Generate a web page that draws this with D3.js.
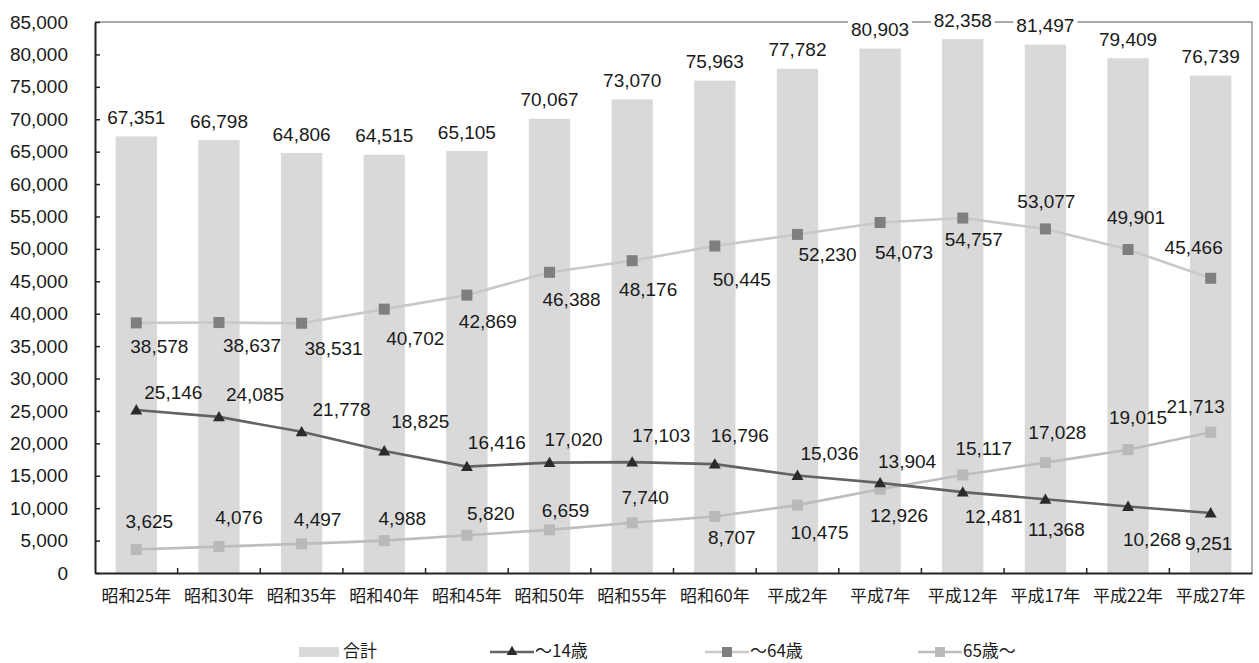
<!DOCTYPE html>
<html>
<head>
<meta charset="utf-8">
<script src="https://cdn.jsdelivr.net/npm/d3@7/dist/d3.min.js"></script>
<style>
  html, body { margin: 0; padding: 0; background: #fff; }
  svg { display: block; }
  .num { font-family: "Liberation Sans", Arial, sans-serif; font-size: 19px; fill: #1a1a1a; }
  .cat { font-family: "Noto Sans CJK JP", sans-serif; font-size: 17px; fill: #1a1a1a; }
  .leg { font-family: "Noto Sans CJK JP", sans-serif; font-size: 17px; fill: #1a1a1a; }
</style>
</head>
<body>
<svg id="chart" width="1259" height="663"></svg>
<script>
// 年齢3区分別人口の推移
const categories = ["昭和25年","昭和30年","昭和35年","昭和40年","昭和45年","昭和50年","昭和55年","昭和60年","平成2年","平成7年","平成12年","平成17年","平成22年","平成27年"];
const total    = [67351, 66798, 64806, 64515, 65105, 70067, 73070, 75963, 77782, 80903, 82358, 81497, 79409, 76739];
const age0_14  = [25146, 24085, 21778, 18825, 16416, 17020, 17103, 16796, 15036, 13904, 12481, 11368, 10268, 9251];
const age15_64 = [38578, 38637, 38531, 40702, 42869, 46388, 48176, 50445, 52230, 54073, 54757, 53077, 49901, 45466];
const age65    = [3625, 4076, 4497, 4988, 5820, 6659, 7740, 8707, 10475, 12926, 15117, 17028, 19015, 21713];
const yTicks   = d3.range(0, 85001, 5000);
const legendNames = ["合計", "～14歳", "～64歳", "65歳～"];

// label placement relative to each marker [dx, dy]
const place0_14 = [[37,-18],[36,-23],[40,-22],[36,-30],[30,-24],[24,-23],[29,-27],[25,-29],[32,-22],[27,-22],[31,24],[11,30],[24,33],[-2,30]];
const place15_64 = [[23,23],[33,23],[32,25],[31,29],[21,26],[22,27],[16,29],[27,33],[30,20],[24,30],[11,21],[1,-28],[8,-32],[-17,-31]];
const place65 = [[13,-28],[20,-29],[16,-24],[18,-22],[24,-22],[16,-19],[13,-25],[17,21],[22,27],[19,26],[21,-27],[12,-30],[10,-32],[-15,-26]];

const svg = d3.select("#chart");
const mLeft = 95, mRight = 1252, mTop = 22, mBottom = 573;

const x = d3.scaleBand().domain(categories).range([mLeft, mRight]).paddingInner(0.5).paddingOuter(0.25);
const y = d3.scaleLinear().domain([0, 85000]).range([mBottom, mTop]);
const cx = c => x(c) + x.bandwidth() / 2;
const fmt = d3.format(",");

// frame: top and right edges
svg.append("path")
  .attr("d", `M${mLeft},${mTop}H${mRight}V${mBottom}`)
  .attr("fill", "none").attr("stroke", "#8c8c8c").attr("stroke-width", 1.3);

// bars
svg.append("g").selectAll("rect").data(categories).join("rect")
  .attr("x", c => x(c)).attr("width", x.bandwidth())
  .attr("y", (c, i) => y(total[i])).attr("height", (c, i) => y(0) - y(total[i]))
  .attr("fill", "#d9d9d9");

// y axis
const yAxis = svg.append("g").attr("transform", `translate(${mLeft},0)`)
  .call(d3.axisLeft(y).tickValues(yTicks).tickFormat(fmt).tickSizeInner(-5).tickSizeOuter(0).tickPadding(27));
yAxis.select(".domain").attr("stroke", "#222").attr("stroke-width", 2);
yAxis.selectAll(".tick line").attr("stroke", "#222").attr("stroke-width", 1.5);
yAxis.selectAll(".tick text").attr("class", "num").attr("font-family", null).attr("font-size", null);

// x axis
const xAxis = svg.append("g").attr("transform", `translate(0,${mBottom})`)
  .call(d3.axisBottom(x).tickSize(0).tickPadding(17));
xAxis.select(".domain").attr("stroke", "#222").attr("stroke-width", 2);
xAxis.selectAll(".tick text").attr("class", "cat").attr("font-family", null).attr("font-size", null);
// category boundary ticks, pointing into the plot
const gap = (x.step() - x.bandwidth()) / 2;
svg.append("g").selectAll("line").data(categories.slice(1)).join("line")
  .attr("x1", c => x(c) - gap)
  .attr("x2", c => x(c) - gap)
  .attr("y1", mBottom).attr("y2", mBottom - 5)
  .attr("stroke", "#222").attr("stroke-width", 1.5);

// lines
const lineGen = vals => d3.line().x((d, i) => cx(categories[i])).y(d => y(d))(vals);
const series = [
  { vals: age15_64, line: "#c9c9c9", marker: "#7f7f7f", shape: "sq", place: place15_64 },
  { vals: age65,    line: "#bdbdbd", marker: "#b9b9b9", shape: "sq", place: place65 },
  { vals: age0_14,  line: "#636363", marker: "#2b2b2b", shape: "tri", place: place0_14 }
];
const triPath = d3.symbol().type(d3.symbolTriangle).size(62);

series.forEach(s => {
  svg.append("path").attr("d", lineGen(s.vals))
    .attr("fill", "none").attr("stroke", s.line).attr("stroke-width", 2.6);
  const g = svg.append("g");
  s.vals.forEach((v, i) => {
    const px = cx(categories[i]), py = y(v);
    if (s.shape === "sq") {
      g.append("rect").attr("x", px - 5.5).attr("y", py - 5.5).attr("width", 11).attr("height", 11).attr("fill", s.marker);
    } else {
      g.append("path").attr("d", triPath()).attr("transform", `translate(${px},${py + 1})`).attr("fill", s.marker);
    }
  });
});

// data labels for lines
series.forEach(s => {
  svg.append("g").selectAll("text").data(s.vals).join("text")
    .attr("class", "num").attr("text-anchor", "middle").attr("dy", "0.35em")
    .attr("x", (v, i) => cx(categories[i]) + s.place[i][0])
    .attr("y", (v, i) => y(v) + s.place[i][1])
    .text(v => fmt(v));
});

// total labels with white backing
const tg = svg.append("g");
total.forEach((v, i) => {
  const t = tg.append("text").attr("class", "num").attr("text-anchor", "middle").attr("dy", "0.35em")
    .attr("x", cx(categories[i])).attr("y", y(v) - 19).text(fmt(v));
  const b = t.node().getBBox();
  tg.insert("rect", () => t.node())
    .attr("x", b.x - 3).attr("y", b.y - 1).attr("width", b.width + 6).attr("height", b.height + 2)
    .attr("fill", "#fff");
});

// legend
const lg = svg.append("g");
const legY = 651;
lg.append("rect").attr("x", 299).attr("y", legY - 4).attr("width", 40).attr("height", 10).attr("fill", "#d9d9d9");
lg.append("text").attr("class", "leg").attr("x", 343).attr("y", legY).attr("dy", "0.35em").text(legendNames[0]);

const legLines = [
  { x0: 490, color: "#636363", marker: "#2b2b2b", shape: "tri", name: legendNames[1] },
  { x0: 705, color: "#c9c9c9", marker: "#7f7f7f", shape: "sq", name: legendNames[2] },
  { x0: 918, color: "#bdbdbd", marker: "#b9b9b9", shape: "sq", name: legendNames[3] }
];
legLines.forEach(l => {
  lg.append("line").attr("x1", l.x0).attr("x2", l.x0 + 44).attr("y1", legY + 1).attr("y2", legY + 1)
    .attr("stroke", l.color).attr("stroke-width", 2.6);
  const mx = l.x0 + 22;
  if (l.shape === "sq") {
    lg.append("rect").attr("x", mx - 5).attr("y", legY - 4).attr("width", 10).attr("height", 10).attr("fill", l.marker);
  } else {
    lg.append("path").attr("d", d3.symbol().type(d3.symbolTriangle).size(50)()).attr("transform", `translate(${mx},${legY + 1})`).attr("fill", l.marker);
  }
  lg.append("text").attr("class", "leg").attr("x", l.x0 + 45).attr("y", legY).attr("dy", "0.35em").text(l.name);
});
</script>
</body>
</html>
